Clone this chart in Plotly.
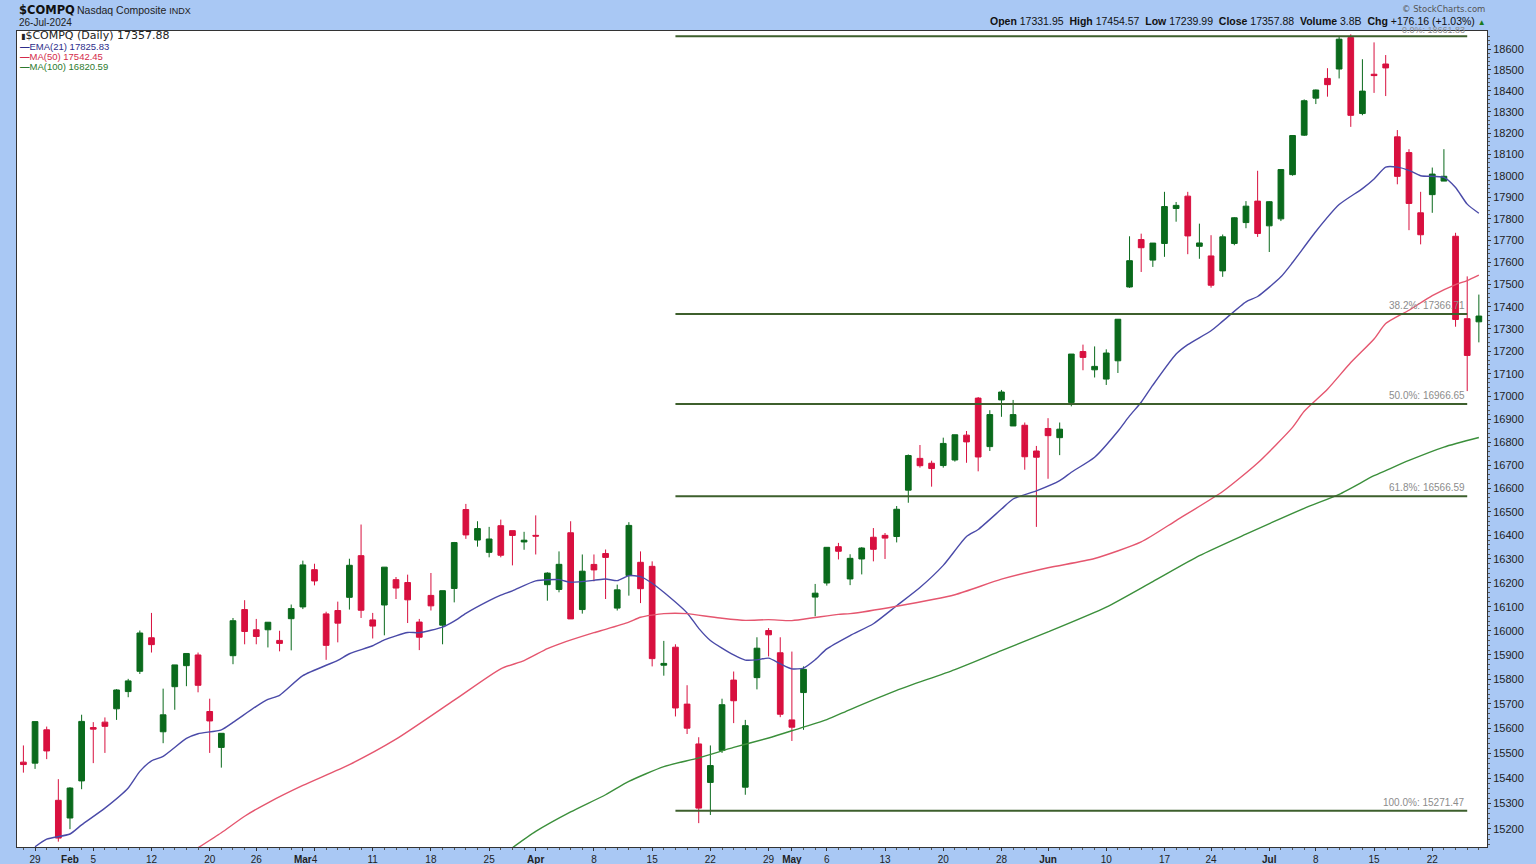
import numpy as np
import plotly.graph_objects as go

# ---------------- data ----------------
dates = [
    "2024-01-26", "2024-01-29", "2024-01-30", "2024-01-31",
    "2024-02-01", "2024-02-02", "2024-02-05", "2024-02-06", "2024-02-07", "2024-02-08", "2024-02-09",
    "2024-02-12", "2024-02-13", "2024-02-14", "2024-02-15", "2024-02-16", "2024-02-20", "2024-02-21",
    "2024-02-22", "2024-02-23", "2024-02-26", "2024-02-27", "2024-02-28", "2024-02-29",
    "2024-03-01", "2024-03-04", "2024-03-05", "2024-03-06", "2024-03-07", "2024-03-08", "2024-03-11",
    "2024-03-12", "2024-03-13", "2024-03-14", "2024-03-15", "2024-03-18", "2024-03-19", "2024-03-20",
    "2024-03-21", "2024-03-22", "2024-03-25", "2024-03-26", "2024-03-27", "2024-03-28",
    "2024-04-01", "2024-04-02", "2024-04-03", "2024-04-04", "2024-04-05", "2024-04-08", "2024-04-09",
    "2024-04-10", "2024-04-11", "2024-04-12", "2024-04-15", "2024-04-16", "2024-04-17", "2024-04-18",
    "2024-04-19", "2024-04-22", "2024-04-23", "2024-04-24", "2024-04-25", "2024-04-26", "2024-04-29",
    "2024-04-30",
    "2024-05-01", "2024-05-02", "2024-05-03", "2024-05-06", "2024-05-07", "2024-05-08", "2024-05-09",
    "2024-05-10", "2024-05-13", "2024-05-14", "2024-05-15", "2024-05-16", "2024-05-17", "2024-05-20",
    "2024-05-21", "2024-05-22", "2024-05-23", "2024-05-24", "2024-05-28", "2024-05-29", "2024-05-30",
    "2024-05-31",
    "2024-06-03", "2024-06-04", "2024-06-05", "2024-06-06", "2024-06-07", "2024-06-10", "2024-06-11",
    "2024-06-12", "2024-06-13", "2024-06-14", "2024-06-17", "2024-06-18", "2024-06-20", "2024-06-21",
    "2024-06-24", "2024-06-25", "2024-06-26", "2024-06-27", "2024-06-28",
    "2024-07-01", "2024-07-02", "2024-07-03", "2024-07-05", "2024-07-08", "2024-07-09", "2024-07-10",
    "2024-07-11", "2024-07-12", "2024-07-15", "2024-07-16", "2024-07-17", "2024-07-18", "2024-07-19",
    "2024-07-22", "2024-07-23", "2024-07-24", "2024-07-25", "2024-07-26",
]

opens = [
    15465, 15461, 15595, 15313,
    15243, 15390, 15604, 15626, 15680, 15750, 15833,
    15971, 15587, 15770, 15856, 15900, 15669, 15524,
    15897, 16088, 16004, 16004, 15960, 16050,
    16099, 16255, 16070, 16084, 16139, 16314, 16045,
    16107, 16213, 16201, 16036, 16147, 16023, 16176,
    16510, 16380, 16328, 16441, 16420, 16372,
    16400, 16192, 16172, 16411, 16088, 16277, 16323,
    16094, 16230, 16286, 16269, 15858, 15932, 15699,
    15538, 15384, 15512, 15797, 15365, 15807, 16001,
    15909,
    15635, 15746, 16140, 16199, 16352, 16216, 16300,
    16392, 16400, 16395, 16593, 16730, 16709, 16699,
    16723, 16831, 16993, 16781, 16985, 16871, 16874,
    16762,
    16860, 16820, 16974, 17199, 17118, 17077, 17158,
    17489, 17705, 17611, 17687, 17848, 17905, 17674,
    17630, 17562, 17687, 17783, 17882,
    17768, 17800, 18005, 18190, 18365, 18459, 18504,
    18655, 18292, 18479, 18528, 18182, 18108, 17828,
    17912, 17975, 17720, 17346, 17331.95,
]

highs = [
    15532, 15628.04, 15608, 15397,
    15365, 15656, 15626, 15645, 15760, 15802, 16001,
    16074, 15762, 15859.15, 15906.17, 15910, 15721, 15581,
    16053, 16127, 16049, 16035.3, 16000, 16109,
    16293, 16280, 16079, 16121, 16301, 16446, 16074,
    16265.64, 16224, 16234, 16049, 16241, 16166.79, 16372,
    16534, 16460, 16436, 16467, 16420, 16415,
    16485, 16244, 16332, 16460, 16319, 16319, 16340,
    16192, 16456, 16332, 16290, 15958, 15944, 15776,
    15565, 15532, 15721, 15832, 15635, 15973, 16011,
    15973,
    15914, 15853, 16195, 16349.25, 16368, 16320, 16350,
    16431, 16410, 16525, 16747, 16788, 16720, 16820,
    16832.62, 16849, 16998, 16940, 17029, 16985, 16886,
    16784,
    16905, 16886, 17187.9, 17230, 17222, 17209, 17343.55,
    17720, 17732, 17688.88, 17925, 17878, 17925, 17778,
    17725, 17728, 17808, 17882, 18023,
    17882, 18028.76, 18188.3, 18359, 18406, 18508, 18659,
    18671, 18551, 18632, 18571, 18214, 18124, 17925,
    18038, 18124, 17736, 17537, 17454.57,
]

lows = [
    15423, 15438, 15477, 15150,
    15199, 15357, 15461, 15502, 15635, 15727, 15822,
    15910, 15541, 15676, 15772, 15747, 15502, 15443,
    15862, 15944, 15944, 15931, 15915, 15919,
    16090, 16189, 15880, 15952, 16088, 16053, 15968,
    15981, 16132, 16032, 15920, 16084, 15944, 16118,
    16385, 16352, 16307, 16307, 16273, 16339,
    16319, 16125, 16160, 16049.08, 16071, 16206, 16132,
    16084, 16146, 16115, 15853, 15815, 15649, 15578,
    15222.78, 15255, 15502, 15622, 15335, 15759, 15894,
    15646,
    15550, 15595, 16060, 16188, 16298, 16190, 16235,
    16290, 16300, 16370, 16539, 16690, 16608, 16690,
    16716, 16711, 16674, 16762, 16911, 16871, 16681,
    16436,
    16642, 16744, 16957, 17116, 17084, 17051, 17104,
    17485, 17557, 17580, 17626, 17787, 17638, 17617,
    17486, 17535, 17679, 17757, 17717,
    17648, 17790, 18000, 18186, 18337, 18372, 18459,
    18229, 18284, 18390, 18375, 17960, 17748, 17683,
    17828, 17975, 17310, 17024, 17239.99,
]

closes = [
    15455.36, 15628.04, 15509.90, 15164.01,
    15361.64, 15628.95, 15597.68, 15609.00, 15756.64, 15793.71, 15990.66,
    15942.55, 15655.60, 15859.15, 15906.17, 15775.65, 15630.78, 15580.87,
    16041.62, 15996.82, 15976.25, 16035.30, 15947.74, 16091.92,
    16274.94, 16207.51, 15939.59, 16031.54, 16273.38, 16085.11, 16019.27,
    16265.64, 16177.77, 16128.53, 15973.17, 16103.45, 16166.79, 16369.41,
    16401.84, 16428.82, 16384.47, 16315.70, 16399.52, 16379.46,
    16396.83, 16240.45, 16277.46, 16049.08, 16248.52, 16253.96, 16306.64,
    16170.36, 16442.20, 16175.09, 15885.02, 15865.25, 15683.37, 15601.50,
    15282.01, 15451.31, 15696.64, 15712.75, 15611.76, 15927.90, 15983.08,
    15657.82,
    15605.48, 15840.96, 16156.33, 16349.25, 16332.56, 16302.76, 16346.26,
    16340.87, 16388.24, 16511.18, 16742.39, 16698.32, 16685.97, 16794.87,
    16832.62, 16801.54, 16736.03, 16920.79, 17019.88, 16920.58, 16737.08,
    16735.02,
    16828.67, 16857.05, 17187.90, 17173.12, 17133.13, 17192.53, 17343.55,
    17608.44, 17667.56, 17688.88, 17857.02, 17862.23, 17721.59, 17689.36,
    17496.82, 17717.65, 17805.16, 17858.68, 17732.60,
    17879.30, 18028.76, 18188.30, 18352.76, 18403.74, 18429.29, 18647.45,
    18283.41, 18398.45, 18472.57, 18509.34, 17996.92, 17871.22, 17726.94,
    18007.57, 17997.35, 17342.41, 17181.72, 17357.88,
]

# moving averages at these trading days
ema21_dates = [
    "2024-01-29", "2024-01-30", "2024-02-01", "2024-02-02", "2024-02-06", "2024-02-08", "2024-02-09",
    "2024-02-12", "2024-02-13", "2024-02-15", "2024-02-16", "2024-02-21", "2024-02-22", "2024-02-26",
    "2024-02-27", "2024-02-28", "2024-03-01", "2024-03-06", "2024-03-07", "2024-03-11", "2024-03-12",
    "2024-03-14", "2024-03-15", "2024-03-19", "2024-03-20", "2024-03-21", "2024-03-25", "2024-03-26",
    "2024-03-27", "2024-04-01", "2024-04-03", "2024-04-04", "2024-04-08", "2024-04-09", "2024-04-10",
    "2024-04-11", "2024-04-12", "2024-04-15", "2024-04-16", "2024-04-18", "2024-04-19", "2024-04-22",
    "2024-04-24", "2024-04-25", "2024-04-26", "2024-04-29", "2024-04-30", "2024-05-01", "2024-05-02",
    "2024-05-03", "2024-05-06", "2024-05-08", "2024-05-10", "2024-05-14", "2024-05-16", "2024-05-20",
    "2024-05-22", "2024-05-23", "2024-05-28", "2024-05-29", "2024-05-31", "2024-06-04", "2024-06-05",
    "2024-06-07", "2024-06-11", "2024-06-12", "2024-06-13", "2024-06-14", "2024-06-18", "2024-06-20",
    "2024-06-24", "2024-06-25", "2024-06-27", "2024-06-28", "2024-07-02", "2024-07-03", "2024-07-08",
    "2024-07-10", "2024-07-12", "2024-07-15", "2024-07-16", "2024-07-17", "2024-07-18", "2024-07-19",
    "2024-07-23", "2024-07-24", "2024-07-25", "2024-07-26",
]
ema21_vals = [
    15130, 15160, 15180, 15216, 15282, 15362, 15428,
    15470, 15488, 15560, 15579, 15595, 15625, 15690,
    15718, 15735, 15815, 15878, 15905, 15938, 15962,
    15993, 15992, 16015, 16040, 16072, 16125, 16148,
    16166, 16208, 16213, 16202, 16210, 16216, 16209,
    16230, 16226, 16198, 16160, 16074, 16010, 15960,
    15900, 15879, 15880, 15887, 15864, 15843, 15846,
    15880, 15925, 15980, 16029, 16104, 16180, 16273,
    16395, 16425, 16512, 16555, 16590, 16634, 16670,
    16735, 16848, 16915, 16975, 17050, 17188, 17230,
    17292, 17335, 17422, 17446, 17535, 17600, 17742,
    17866, 17940, 17985, 18040, 18040, 18025, 18000,
    17992, 17945, 17868, 17825.83,
]

ma50_dates = [
    "2024-02-16", "2024-02-21", "2024-02-23", "2024-02-27", "2024-03-01", "2024-03-07", "2024-03-13",
    "2024-03-20", "2024-03-26", "2024-03-28", "2024-04-02", "2024-04-03", "2024-04-08", "2024-04-09",
    "2024-04-11", "2024-04-12", "2024-04-16", "2024-04-18", "2024-04-22", "2024-04-23", "2024-04-25",
    "2024-04-29", "2024-05-01", "2024-05-03", "2024-05-07", "2024-05-08", "2024-05-14", "2024-05-21",
    "2024-05-28", "2024-06-03", "2024-06-07", "2024-06-13", "2024-06-18", "2024-06-25", "2024-06-28",
    "2024-07-03", "2024-07-05", "2024-07-09", "2024-07-11", "2024-07-15", "2024-07-16", "2024-07-18",
    "2024-07-22", "2024-07-24", "2024-07-25", "2024-07-26",
]
ma50_vals = [
    15126, 15185, 15250, 15303, 15372, 15455, 15557,
    15715, 15843, 15877, 15926, 15945, 15992, 16006,
    16036, 16056, 16071, 16071, 16058, 16052, 16043,
    16046, 16042, 16055, 16068, 16071, 16102, 16150,
    16215, 16263, 16302, 16372, 16463, 16587, 16710,
    16865, 16935, 17032, 17150, 17255, 17324, 17384,
    17450, 17500, 17518, 17542.45,
]

ma100_dates = [
    "2024-03-27", "2024-04-01", "2024-04-04", "2024-04-09", "2024-04-11", "2024-04-16", "2024-04-19",
    "2024-04-24", "2024-04-29", "2024-05-01", "2024-05-06", "2024-05-08", "2024-05-14", "2024-05-21",
    "2024-05-28", "2024-06-03", "2024-06-10", "2024-06-14", "2024-06-21", "2024-06-27", "2024-07-05",
    "2024-07-10", "2024-07-15", "2024-07-16", "2024-07-18", "2024-07-23", "2024-07-26",
]
ma100_vals = [
    15126, 15190, 15267, 15335, 15388, 15447, 15482,
    15524, 15562, 15591, 15636, 15677, 15755, 15840,
    15918, 15995, 16098, 16205, 16314, 16405, 16515,
    16575, 16655, 16677, 16721, 16779, 16820.59,
]

fib_levels = [18661.83, 17366.71, 16966.65, 16566.59, 15271.47]
fib_labels = ["0.0%", "38.2%", "50.0%", "61.8%", "100.0%"]
fib_start = "2024-04-17"
fib_end = "2024-07-25"

y_ticks = [15200, 15300, 15400, 15500, 15600, 15700, 15800, 15900, 16000, 16100, 16200, 16300,
           16400, 16500, 16600, 16700, 16800, 16900, 17000, 17100, 17200, 17300, 17400, 17500,
           17600, 17700, 17800, 17900, 18000, 18100, 18200, 18300, 18400, 18500, 18600]

x_tick_dates = ["2024-01-29", "2024-02-01", "2024-02-05", "2024-02-12", "2024-02-20", "2024-02-26",
                "2024-03-01", "2024-03-04", "2024-03-11", "2024-03-18", "2024-03-25", "2024-04-01",
                "2024-04-08", "2024-04-15", "2024-04-22", "2024-04-29", "2024-05-01", "2024-05-06",
                "2024-05-13", "2024-05-20", "2024-05-28", "2024-06-03", "2024-06-10", "2024-06-17",
                "2024-06-24", "2024-07-01", "2024-07-08", "2024-07-15", "2024-07-22"]
x_tick_text = ["29", "Feb", "5", "12", "20", "26", "Mar", "4", "11", "18", "25", "Apr", "8", "15",
               "22", "29", "May", "6", "13", "20", "28", "Jun", "10", "17", "24", "Jul", "8", "15", "22"]
month_names = {"Feb", "Mar", "Apr", "May", "Jun", "Jul"}

# ---------------- styling ----------------
BG = "#a9c8f4"
GREEN = "#0a6a1c"
RED = "#d8103f"
EMA_C = "#4a4aa8"
MA50_C = "#e5566f"
MA100_C = "#3b8f3b"
FIB_C = "#3d5f2c"

W, H = 1536, 864
ML, MR, MT, MB = 17, 49, 31, 17
PW, PH = W - ML - MR, H - MT - MB

pos = {d: i for i, d in enumerate(dates)}
xs = list(range(len(dates)))


def px(xp):
    return (xp - ML) / PW


def py(yp):
    return (H - MB - yp) / PH


fig = go.Figure()

fig.add_trace(go.Candlestick(
    x=xs, open=opens, high=highs, low=lows, close=closes,
    increasing=dict(line=dict(color=GREEN, width=1), fillcolor=GREEN),
    decreasing=dict(line=dict(color=RED, width=1), fillcolor=RED),
    whiskerwidth=0, hoverinfo="skip", showlegend=False,
))

for dts, vals, col in [(ema21_dates, ema21_vals, EMA_C),
                       (ma50_dates, ma50_vals, MA50_C),
                       (ma100_dates, ma100_vals, MA100_C)]:
    fig.add_trace(go.Scatter(
        x=[pos[d] for d in dts], y=vals, mode="lines",
        line=dict(color=col, width=1.4, shape="spline", smoothing=0.6),
        hoverinfo="skip", showlegend=False,
    ))

x0f, x1f = pos[fib_start], pos[fib_end]
for lv, lab in zip(fib_levels, fib_labels):
    fig.add_trace(go.Scatter(
        x=[x0f, x1f], y=[lv, lv], mode="lines",
        line=dict(color=FIB_C, width=2), hoverinfo="skip", showlegend=False,
    ))
    top = lv == max(fib_levels)
    fig.add_annotation(
        x=x1f, y=np.log10(lv), xref="x", yref="y", text=f"{lab}: {lv:.2f}",
        showarrow=False, xanchor="right", yanchor="bottom", yshift=-1 if top else 1,
        font=dict(family="Liberation Sans, Arial", size=9 if top else 10, color="#8c8c8c"),
    )

# header texts
fig.add_annotation(x=px(17), y=py(10.5), xref="paper", yref="paper", showarrow=False,
                   xanchor="left", yanchor="middle",
                   text="<b>$COMPQ</b>", font=dict(family="DejaVu Sans", size=11.5, color="#111"))
fig.add_annotation(x=px(75), y=py(10.5), xref="paper", yref="paper", showarrow=False,
                   xanchor="left", yanchor="middle",
                   text="Nasdaq Composite <span style='font-size:9px'>INDX</span>",
                   font=dict(family="Liberation Sans, Arial", size=10.5, color="#222"))
fig.add_annotation(x=px(17), y=py(22), xref="paper", yref="paper", showarrow=False,
                   xanchor="left", yanchor="middle",
                   text="26-Jul-2024", font=dict(family="Liberation Sans, Arial", size=10, color="#222"))
fig.add_annotation(x=px(1487), y=py(9.5), xref="paper", yref="paper", showarrow=False,
                   xanchor="right", yanchor="middle",
                   text="© StockCharts.com", font=dict(family="DejaVu Sans", size=8.5, color="#555"))
fig.add_annotation(
    x=px(1488), y=py(21), xref="paper", yref="paper", showarrow=False,
    xanchor="right", yanchor="middle",
    text=("<b>Open</b> 17331.95  <b>High</b> 17454.57  <b>Low</b> 17239.99  "
          "<b>Close</b> 17357.88  <b>Volume</b> 3.8B  <b>Chg</b> +176.16 (+1.03%) "
          "<span style='color:#1a7a1a;font-size:8px'>▲</span>"),
    font=dict(family="Liberation Sans, Arial", size=10.5, color="#111"),
)

# in-plot legend
fig.add_annotation(x=px(19), y=py(35.5), xref="paper", yref="paper", showarrow=False,
                   xanchor="left", yanchor="middle",
                   text="<span style='font-size:8px'>▮</span>$COMPQ (Daily) 17357.88",
                   font=dict(family="DejaVu Sans", size=11, color="#222"))
for yy, txt, col in [(46, "EMA(21) 17825.83", "#2d2d8a"),
                     (56.5, "MA(50) 17542.45", "#d42a4a"),
                     (67, "MA(100) 16820.59", "#2d7a2d")]:
    fig.add_annotation(x=px(18), y=py(yy), xref="paper", yref="paper", showarrow=False,
                       xanchor="left", yanchor="middle",
                       text=f"<b>—</b>{txt}",
                       font=dict(family="Liberation Sans, Arial", size=9.5, color=col))

y_minor = [v for v in range(15140, 18680, 20) if v % 100 != 0]

fig.update_layout(
    width=W, height=H,
    margin=dict(l=ML, r=MR, t=MT, b=MB, autoexpand=False),
    paper_bgcolor=BG, plot_bgcolor="white",
    showlegend=False,
    xaxis=dict(
        range=[-0.55, 125.7], tickmode="array",
        tickvals=[pos[d] for d in x_tick_dates],
        ticktext=[f"<b>{t}</b>" if t in month_names else t for t in x_tick_text],
        tickangle=0, automargin=False,
        ticks="outside", ticklen=3, tickcolor="#333", tickwidth=1,
        showgrid=False, zeroline=False, showline=True, linecolor="#333", linewidth=1, mirror=True,
        tickfont=dict(family="Liberation Sans, Arial", size=10, color="#222"),
        rangeslider=dict(visible=False),
        minor=dict(tick0=0, dtick=1, ticks="outside", ticklen=2, tickcolor="#555"),
    ),
    yaxis=dict(
        type="log", range=[np.log10(15129), np.log10(18687)], side="right",
        tickmode="array", tickvals=y_ticks, ticktext=[str(t) for t in y_ticks],
        automargin=False,
        ticks="outside", ticklen=3, tickcolor="#333",
        showgrid=False, zeroline=False, showline=True, linecolor="#333", linewidth=1, mirror=True,
        tickfont=dict(family="Liberation Sans, Arial", size=11, color="#222"),
        minor=dict(tickmode="array", tickvals=y_minor, ticks="outside", ticklen=2, tickcolor="#555"),
    ),
)

fig.write_html("out.html", config={"displayModeBar": False},
               post_script="document.body.style.margin='0';document.body.style.overflow='hidden';")
